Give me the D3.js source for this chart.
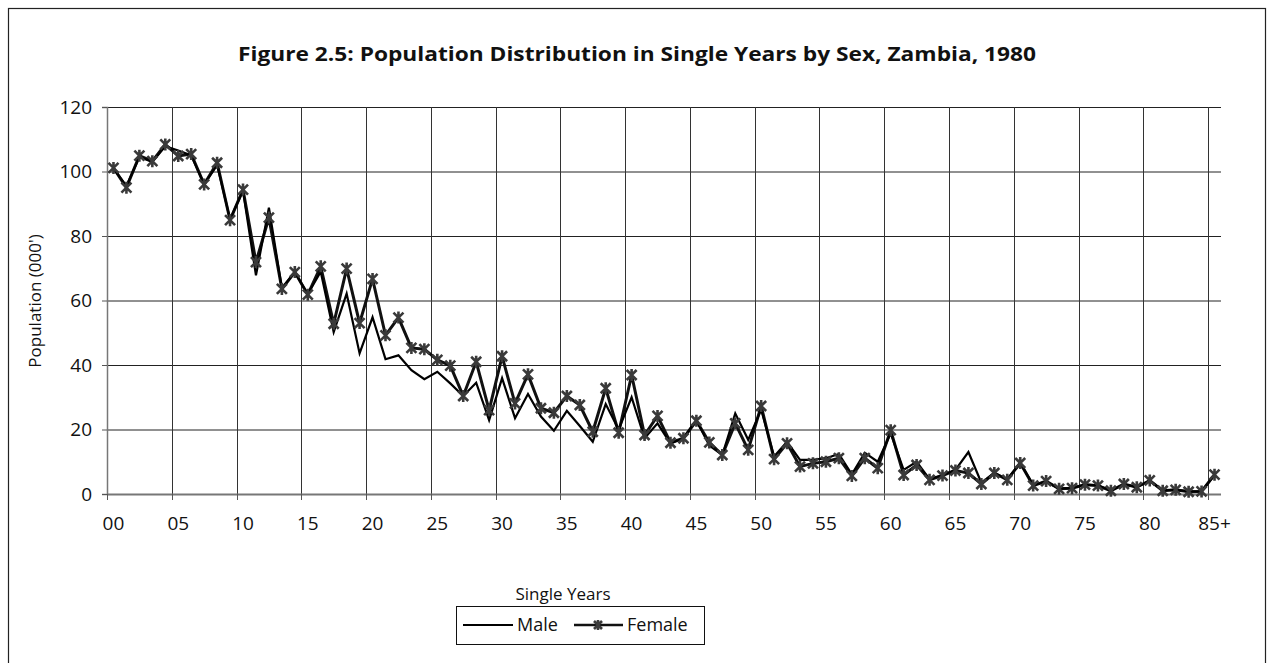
<!DOCTYPE html>
<html>
<head>
<meta charset="utf-8">
<script src="https://cdn.jsdelivr.net/npm/d3@7"></script>
<style>
  html, body { margin: 0; padding: 0; background: #fff; }
  svg { display: block; }
  text { font-family: "Open Sans", Lato, sans-serif; fill: #111; }
</style>
</head>
<body>
<svg id="chart" width="1274" height="663"></svg>
<script>
const categories = (function(){ const a=[]; for (let i=0;i<85;i++) a.push(String(i).padStart(2,"0")); a.push("85+"); return a; })();
const tickLabels = ["00","05","10","15","20","25","30","35","40","45","50","55","60","65","70","75","80","85+"];
const yTicks = [0,20,40,60,80,100,120];
const male = [101.0,95.5,104.5,103.0,107.8,106.5,105.0,96.0,102.0,85.2,
  94.0,67.8,88.8,63.8,68.8,62.0,68.9,50.2,62.1,43.6,
  54.8,41.8,43.0,38.4,35.6,37.9,34.3,30.4,34.5,22.9,
  35.9,23.5,31.0,24.0,19.6,25.8,21.1,16.2,27.9,20.0,
  30.0,17.3,21.9,15.6,17.3,22.9,15.0,12.1,25.0,16.8,
  26.2,11.6,16.2,10.6,10.6,11.1,12.4,6.1,12.8,10.0,
  18.8,7.5,10.0,4.6,5.9,7.5,13.0,3.5,6.5,4.6,
  9.6,2.8,3.8,1.7,1.9,2.9,2.7,1.1,3.0,2.2,
  4.1,1.1,1.3,0.8,0.9,5.9];
const female = [101.1,95.0,104.9,103.2,108.4,104.8,105.4,96.0,102.7,84.9,
  94.4,71.9,85.7,63.6,68.8,61.8,70.6,52.8,69.9,53.0,
  66.7,49.2,54.7,45.3,44.9,41.6,39.8,30.4,41.0,26.0,
  42.7,28.1,37.1,26.6,25.2,30.4,27.6,19.3,32.8,19.0,
  36.9,18.3,24.2,15.9,17.3,22.7,16.0,12.1,21.9,13.7,
  27.3,10.8,15.7,8.5,9.5,10.0,11.1,5.6,11.1,8.0,
  19.8,5.9,9.0,4.4,5.7,7.3,6.5,3.1,6.5,4.4,
  9.6,2.6,4.0,1.6,1.8,2.9,2.6,1.0,3.1,2.1,
  4.2,1.0,1.3,0.7,0.8,6.0];
const seriesNames = ["Male","Female"];
const title = "Figure 2.5: Population Distribution in Single Years by Sex, Zambia, 1980";

const svg = d3.select("#chart");
const L = 107, R = 1221, T = 107, B = 494;

// outer border
svg.append("rect").attr("x",8.5).attr("y",8.5).attr("width",1257).attr("height",680)
  .attr("fill","none").attr("stroke","#222").attr("stroke-width",1.2);

svg.append("text").attr("x",637).attr("y",61).attr("text-anchor","middle")
  .attr("font-size",20).attr("font-weight","bold")
  .attr("textLength",798).attr("lengthAdjust","spacingAndGlyphs").text(title);

const x = d3.scaleBand().domain(categories).range([L,R]).paddingInner(0).paddingOuter(0);
const y = d3.scaleLinear().domain([0,120]).range([B,T]);
const cx = c => x(c) + x.bandwidth()/2;

// horizontal gridlines
svg.append("g").selectAll("line").data(yTicks.filter(v=>v>0)).join("line")
  .attr("x1",L).attr("x2",R).attr("y1",d=>y(d)+0.5).attr("y2",d=>y(d)+0.5)
  .attr("stroke","#222").attr("stroke-width",1);

// vertical gridlines at boundaries
const boundaryCats = categories.filter((c,i)=>i%5===0);
svg.append("g").selectAll("line").data(boundaryCats.slice(1)).join("line")
  .attr("x1",d=>Math.round(x(d))+0.5).attr("x2",d=>Math.round(x(d))+0.5)
  .attr("y1",T).attr("y2",B).attr("stroke","#333").attr("stroke-width",1);

// y axis
const yAxis = svg.append("g").attr("transform",`translate(${L},0)`)
  .call(d3.axisLeft(y).tickValues(yTicks).tickSize(5).tickPadding(10).tickFormat(d3.format("d")));
yAxis.select(".domain").attr("stroke","#777").attr("stroke-width",1.5);
yAxis.selectAll(".tick line").attr("stroke","#555");
yAxis.selectAll(".tick text").attr("font-size",19).attr("font-family","Open Sans").attr("fill","#111");

// x axis line
svg.append("line").attr("x1",L).attr("x2",R).attr("y1",B+0.5).attr("y2",B+0.5)
  .attr("stroke","#777").attr("stroke-width",1.8);
// x ticks at boundaries
svg.append("g").selectAll("line").data(boundaryCats).join("line")
  .attr("x1",d=>Math.round(x(d))+0.5).attr("x2",d=>Math.round(x(d))+0.5)
  .attr("y1",B).attr("y2",B+6).attr("stroke","#555").attr("stroke-width",1);
// x labels at category centers
const labelCats = categories.filter((c,i)=>i%5===0);
const xAxis = svg.append("g").attr("transform",`translate(0,${B})`)
  .call(d3.axisBottom(x).tickValues(labelCats).tickSize(0).tickPadding(23)
    .tickFormat((d,i)=>tickLabels[i]));
xAxis.select(".domain").remove();
xAxis.selectAll(".tick text").attr("font-size",19).attr("font-family","Open Sans").attr("fill","#111");

// axis titles
svg.append("text").attr("x",563).attr("y",600).attr("text-anchor","middle")
  .attr("font-size",17).text("Single Years");
svg.append("text").attr("transform","translate(41,301) rotate(-90)").attr("text-anchor","middle")
  .attr("font-size",17).text("Population (000')");

// lines
const line = d3.line().x((d,i)=>cx(categories[i])).y(d=>y(d));
svg.append("path").datum(female).attr("d",line).attr("fill","none")
  .attr("stroke","#111").attr("stroke-width",3).attr("stroke-linejoin","miter");
svg.append("path").datum(male).attr("d",line).attr("fill","none")
  .attr("stroke","#000").attr("stroke-width",2.2).attr("stroke-linejoin","miter");

function star(g, px, py, s) {
  g.append("path").attr("d",`M${px-s},${py-s}L${px+s},${py+s}M${px-s},${py+s}L${px+s},${py-s}M${px},${py-s-1}L${px},${py+s+1}`)
    .attr("stroke","#3a3a3a").attr("stroke-width",2.6).attr("fill","none");
}
const mg = svg.append("g");
female.forEach((v,i)=>star(mg, cx(categories[i]), y(v), 5));

// legend
const lg = svg.append("g");
lg.append("rect").attr("x",456.5).attr("y",606.5).attr("width",248).attr("height",38)
  .attr("fill","#fff").attr("stroke","#111").attr("stroke-width",1);
lg.append("line").attr("x1",463).attr("x2",513).attr("y1",625).attr("y2",625).attr("stroke","#000").attr("stroke-width",2.2);
lg.append("text").attr("x",517).attr("y",631).attr("font-size",18).text(seriesNames[0]);
lg.append("line").attr("x1",574).attr("x2",623).attr("y1",625).attr("y2",625).attr("stroke","#111").attr("stroke-width",2.6);
star(lg, 598, 625, 4);
lg.append("text").attr("x",627).attr("y",631).attr("font-size",18).text(seriesNames[1]);
</script>
</body>
</html>
